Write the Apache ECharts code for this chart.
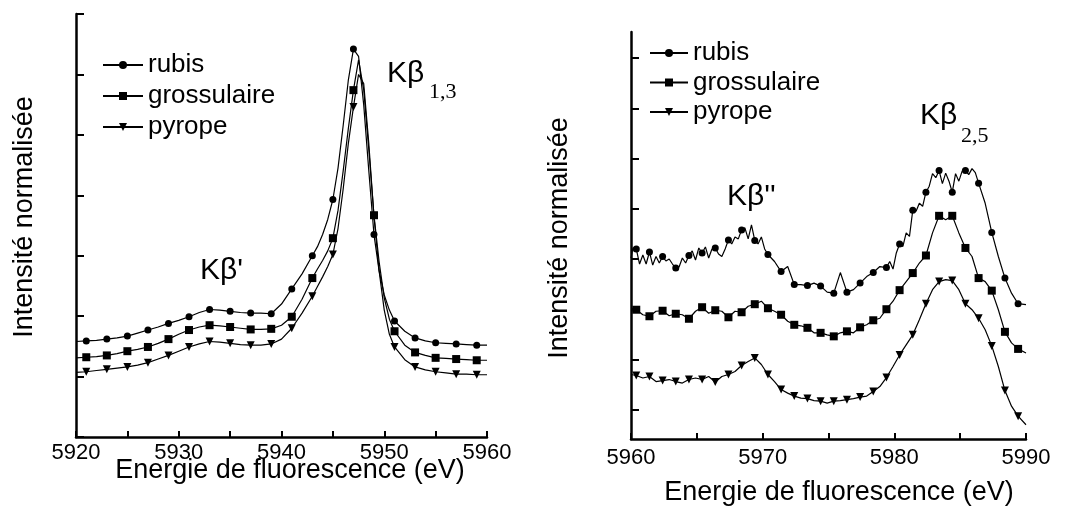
<!DOCTYPE html>
<html>
<head>
<meta charset="utf-8">
<script src="https://cdn.jsdelivr.net/npm/echarts@6.0.0/dist/echarts.min.js"></script>
<style>
  html, body { margin: 0; padding: 0; background: #fff; }
  #main { width: 1067px; height: 515px; }
</style>
</head>
<body>
<div id="main"></div>
<script>
//series names
var names = ['rubis', 'grossulaire', 'pyrope'];

//Kβ1,3 / Kβ' region (left)
var xLeft = [5920, 5921, 5922, 5923, 5924, 5925, 5926, 5927, 5928, 5929, 5930, 5931, 5932, 5933, 5934, 5935,
    5936, 5937, 5938, 5939, 5940, 5941, 5942, 5943, 5943.5, 5944, 5944.5, 5945, 5945.5, 5946, 5946.5, 5947,
    5947.5, 5948, 5948.5, 5949, 5949.5, 5950, 5950.5, 5951, 5952, 5953, 5954, 5955, 5956, 5957, 5958, 5959, 5960];
var marksLeft = [5921, 5923, 5925, 5927, 5929, 5931, 5933, 5935, 5937, 5939, 5941, 5943, 5945, 5947, 5949,
    5951, 5953, 5955, 5957, 5959];
var rubisLeft = [1.58, 1.59, 1.60, 1.62, 1.64, 1.67, 1.72, 1.77, 1.82, 1.88, 1.93, 1.99, 2.06, 2.11, 2.10, 2.08,
    2.06, 2.05, 2.05, 2.04, 2.20, 2.45, 2.70, 3.00, 3.15, 3.35, 3.60, 3.93, 4.45, 5.15, 5.90, 6.42,
    6.30, 5.50, 4.40, 3.35, 2.75, 2.35, 2.10, 1.92, 1.75, 1.64, 1.59, 1.56, 1.55, 1.54, 1.53, 1.52, 1.52];
var grossLeft = [1.31, 1.32, 1.33, 1.35, 1.38, 1.42, 1.45, 1.49, 1.55, 1.62, 1.70, 1.77, 1.82, 1.85, 1.84, 1.82,
    1.80, 1.78, 1.78, 1.79, 1.85, 1.99, 2.28, 2.63, 2.78, 2.92, 3.08, 3.29, 3.75, 4.40, 5.10, 5.74,
    6.24, 5.75, 4.75, 3.67, 2.90, 2.30, 1.95, 1.75, 1.52, 1.40, 1.35, 1.31, 1.30, 1.29, 1.28, 1.27, 1.27];
var pyropeLeft = [1.07, 1.08, 1.10, 1.12, 1.14, 1.16, 1.19, 1.23, 1.29, 1.35, 1.42, 1.49, 1.54, 1.58, 1.57, 1.55,
    1.53, 1.52, 1.52, 1.54, 1.62, 1.80, 2.05, 2.33, 2.49, 2.65, 2.82, 3.02, 3.45, 4.10, 4.85, 5.46,
    6.00, 5.85, 4.85, 3.65, 2.75, 2.10, 1.70, 1.49, 1.28, 1.16, 1.11, 1.08, 1.06, 1.04, 1.04, 1.03, 1.03];

//Kβ2,5 / Kβ'' region (right)
var xRight = [5960, 5960.4, 5960.9, 5961.4, 5961.9, 5962.4, 5962.9, 5963.4, 5963.9, 5964.4, 5964.9, 5965.4,
    5965.9, 5966.4, 5966.9, 5967.4, 5967.9, 5968.4, 5968.9, 5969.4, 5969.9, 5970.4, 5970.9, 5971.4, 5971.9,
    5972.4, 5972.9, 5973.4, 5973.9, 5974.4, 5974.9, 5975.4, 5975.9, 5976.4, 5976.9, 5977.4, 5977.9, 5978.4,
    5978.9, 5979.4, 5979.9, 5980.4, 5980.9, 5981.4, 5981.9, 5982.4, 5982.9, 5983.4, 5983.9, 5984.4, 5984.9,
    5985.4, 5985.9, 5986.4, 5986.9, 5987.4, 5987.9, 5988.4, 5988.9, 5989.4, 5990];
//rubis is noisier, read on a finer step
var xRubisRight = [
    5960, 5960.15,
    5960.4, 5960.65, 5960.9, 5961.15, 5961.4, 5961.65, 5961.9, 5962.15, 5962.4, 5962.65,
    5962.9, 5963.15, 5963.4, 5963.65, 5963.9, 5964.15, 5964.4, 5964.65, 5964.9, 5965.15,
    5965.4, 5965.65, 5965.9, 5966.15, 5966.4, 5966.65, 5966.9, 5967.15, 5967.4, 5967.65,
    5967.9, 5968.15, 5968.4, 5968.65, 5968.9, 5969.15, 5969.4, 5969.65, 5969.9, 5970.15,
    5970.4,
    5970.9, 5971.4, 5971.9, 5972.4, 5972.9, 5973.4, 5973.9, 5974.4, 5974.9, 5975.4,
    5975.9, 5976.4, 5976.9, 5977.4, 5977.9, 5978.4, 5978.9, 5979.4,
    5979.65, 5979.9, 5980.15, 5980.4, 5980.65, 5980.9, 5981.15, 5981.4, 5981.65, 5981.9,
    5982.15, 5982.4, 5982.65, 5982.9, 5983.15, 5983.4, 5983.65, 5983.9, 5984.15, 5984.4,
    5984.65, 5984.9, 5985.15, 5985.4, 5985.65, 5985.9, 5986.15, 5986.4,
    5986.9, 5987.4, 5987.9, 5988.4, 5988.9, 5989.4, 5990];
var rubisRight = [
    4.02, 4.22,
    4.20, 3.90, 4.08, 3.90, 4.14, 3.88, 4.05, 3.92, 4.05, 3.96,
    4.00, 3.90, 3.82, 3.84, 4.02, 3.92, 4.07, 4.16, 3.98, 4.22,
    4.12, 4.24, 4.02, 4.20, 4.22, 4.10, 4.05, 4.20, 4.38, 4.30,
    4.44, 4.40, 4.58, 4.62, 4.40, 4.68, 4.37, 4.30, 4.44, 4.20,
    4.09,
    3.95, 3.75, 3.85, 3.49, 3.49, 3.47, 3.52, 3.46, 3.34, 3.32,
    3.73, 3.34, 3.39, 3.52, 3.65, 3.73, 3.85, 3.83,
    3.95, 3.80, 4.12, 4.30, 4.25, 4.52, 4.45, 4.97, 4.95, 5.11,
    5.05, 5.33, 5.45, 5.70, 5.62, 5.76, 5.50, 5.71, 5.55, 5.33,
    5.70, 5.55, 5.75, 5.76, 5.68, 5.80, 5.72, 5.51,
    5.11, 4.53, 4.05, 3.62, 3.32, 3.11, 3.09];
var marksRight = [5960.4, 5961.4, 5962.4, 5963.4, 5964.4, 5965.4, 5966.4, 5967.4, 5968.4, 5969.4, 5970.4,
    5971.4, 5972.4, 5973.4, 5974.4, 5975.4, 5976.4, 5977.4, 5978.4, 5979.4, 5980.4, 5981.4, 5982.4, 5983.4,
    5984.4, 5985.4, 5986.4, 5987.4, 5988.4, 5989.4];
var grossRight = [2.96, 2.99, 2.89, 2.86, 2.96, 2.97, 2.87, 2.91, 2.89, 2.81, 2.96, 3.04, 2.92, 2.98, 2.96, 2.84,
    2.96, 2.94, 3.06, 3.10, 3.16, 3.02, 2.96, 2.89, 2.76, 2.69, 2.67, 2.63, 2.53, 2.53, 2.49, 2.46, 2.53,
    2.56, 2.53, 2.64, 2.69, 2.78, 2.82, 3.00, 3.16, 3.38, 3.55, 3.72, 3.92, 4.07, 4.52, 4.86, 4.78, 4.86,
    4.52, 4.22, 4.05, 3.62, 3.55, 3.37, 2.99, 2.55, 2.33, 2.21, 2.13];
var pyropeRight = [1.70, 1.68, 1.63, 1.66, 1.56, 1.58, 1.60, 1.56, 1.53, 1.60, 1.63, 1.60, 1.66, 1.55, 1.66, 1.70,
    1.76, 1.88, 1.96, 2.03, 1.90, 1.70, 1.56, 1.40, 1.33, 1.27, 1.23, 1.22, 1.18, 1.17, 1.13, 1.17, 1.18,
    1.20, 1.22, 1.25, 1.27, 1.36, 1.46, 1.64, 1.86, 2.09, 2.29, 2.49, 2.79, 3.11, 3.39, 3.55, 3.59, 3.57,
    3.39, 3.11, 2.99, 2.82, 2.59, 2.27, 1.86, 1.38, 1.07, 0.87, 0.70];

//tick labels
var labelsLeft = [5920, 5930, 5940, 5950, 5960];
var labelsRight = [5960, 5970, 5980, 5990];
var yTicksRight = [1, 2, 3, 4, 5, 6, 7, 8];

var symbols = ['circle', 'rect', 'triangle'];
var FONT = '"Liberation Sans", Arial, sans-serif';

//only some points carry a marker
function buildData(xs, ys, marks) {
    var out = [];
    for (var i = 0; i < xs.length; i++) {
        var item = {value: [xs[i], ys[i]]};
        if (marks.indexOf(xs[i]) < 0) {
            item.symbol = 'none';
        }
        out.push(item);
    }
    return out;
}

function makeSeries(k, idx, xs, ys, marks) {
    return {
        name: names[k],
        type: 'line',
        xAxisIndex: idx,
        yAxisIndex: idx,
        symbol: symbols[k],
        symbolSize: k === 0 ? 7 : 8,
        symbolRotate: k === 2 ? 180 : 0,
        showSymbol: true,
        itemStyle: {color: '#000'},
        lineStyle: {color: '#000', width: 1.2},
        data: buildData(xs, ys, marks)
    };
}

function xAxisOf(idx, min, max, labels, margin) {
    return {
        type: 'value', gridIndex: idx, min: min, max: max, interval: 5,
        axisLine: {onZero: false, lineStyle: {color: '#000', width: 2.5}},
        axisTick: {inside: true, length: 6, lineStyle: {color: '#000', width: 2}},
        axisLabel: {
            customValues: labels, color: '#000', fontSize: 22, fontFamily: FONT, margin: margin,
            formatter: function (v) {
                return String(v);
            }
        },
        splitLine: {show: false}
    };
}

var legendBase = {
    orient: 'vertical',
    data: names,
    padding: 0,
    itemWidth: 40,
    itemHeight: 10,
    textStyle: {color: '#000', fontSize: 26, fontFamily: FONT, lineHeight: 26},
    inactiveColor: '#000'
};

var chart = echarts.init(document.getElementById('main'));
var option = {
    animation: false,
    backgroundColor: '#fff',
    grid: [
        {left: 76, top: 14, width: 411, height: 423, containLabel: false, outerBoundsMode: 'none'},
        {left: 631, top: 32, width: 395, height: 407, containLabel: false, outerBoundsMode: 'none'}
    ],
    xAxis: [
        xAxisOf(0, 5920, 5960, labelsLeft, 5),
        xAxisOf(1, 5960, 5990, labelsRight, 8)
    ],
    yAxis: [
        {
            type: 'value', gridIndex: 0, min: 0, max: 7, interval: 1,
            axisLine: {show: true, onZero: false, lineStyle: {color: '#000', width: 2.5}},
            axisTick: {show: true, inside: true, length: 8, lineStyle: {color: '#000', width: 2}},
            axisLabel: {show: false},
            splitLine: {show: false}
        },
        {
            type: 'value', gridIndex: 1, min: 0.416, max: 8.52,
            axisLine: {show: true, onZero: false, lineStyle: {color: '#000', width: 2.5}},
            axisTick: {show: true, inside: true, length: 8, customValues: yTicksRight,
                lineStyle: {color: '#000', width: 2}},
            axisLabel: {show: false},
            splitLine: {show: false}
        }
    ],
    legend: [
        Object.assign({}, legendBase, {left: 102, top: 52, itemGap: 5}),
        Object.assign({}, legendBase, {left: 649, top: 40, itemGap: 3.5, itemWidth: 38})
    ],
    graphic: [
        //axis titles
        {type: 'text', x: 25, y: 217, rotation: Math.PI / 2,
            style: {text: 'Intensité normalisée', font: '27px ' + FONT, fill: '#000', align: 'center', verticalAlign: 'middle'}},
        {type: 'text', x: 290, y: 471,
            style: {text: 'Energie de fluorescence (eV)', font: '27px ' + FONT, fill: '#000', align: 'center', verticalAlign: 'middle'}},
        {type: 'text', x: 560, y: 238, rotation: Math.PI / 2,
            style: {text: 'Intensité normalisée', font: '27px ' + FONT, fill: '#000', align: 'center', verticalAlign: 'middle'}},
        {type: 'text', x: 839, y: 493,
            style: {text: 'Energie de fluorescence (eV)', font: '27px ' + FONT, fill: '#000', align: 'center', verticalAlign: 'middle'}},
        //peak names
        {type: 'text', x: 387, y: 74,
            style: {text: 'Kβ', font: '30px ' + FONT, fill: '#000', align: 'left', verticalAlign: 'middle'}},
        {type: 'text', x: 429, y: 92,
            style: {text: '1,3', font: '22px "Liberation Serif", serif', fill: '#000', align: 'left', verticalAlign: 'middle'}},
        {type: 'text', x: 200, y: 271,
            style: {text: "Kβ'", font: '30px ' + FONT, fill: '#000', align: 'left', verticalAlign: 'middle'}},
        {type: 'text', x: 727, y: 197,
            style: {text: "Kβ''", font: '30px ' + FONT, fill: '#000', align: 'left', verticalAlign: 'middle'}},
        {type: 'text', x: 920, y: 116,
            style: {text: 'Kβ', font: '30px ' + FONT, fill: '#000', align: 'left', verticalAlign: 'middle'}},
        {type: 'text', x: 961, y: 136,
            style: {text: '2,5', font: '22px "Liberation Serif", serif', fill: '#000', align: 'left', verticalAlign: 'middle'}}
    ],
    series: [
        makeSeries(0, 0, xLeft, rubisLeft, marksLeft),
        makeSeries(1, 0, xLeft, grossLeft, marksLeft),
        makeSeries(2, 0, xLeft, pyropeLeft, marksLeft),
        makeSeries(0, 1, xRubisRight, rubisRight, marksRight),
        makeSeries(1, 1, xRight, grossRight, marksRight),
        makeSeries(2, 1, xRight, pyropeRight, marksRight)
    ]
};

if (option && typeof option === "object") {
    chart.setOption(option, true);
}
</script>
</body>
</html>
